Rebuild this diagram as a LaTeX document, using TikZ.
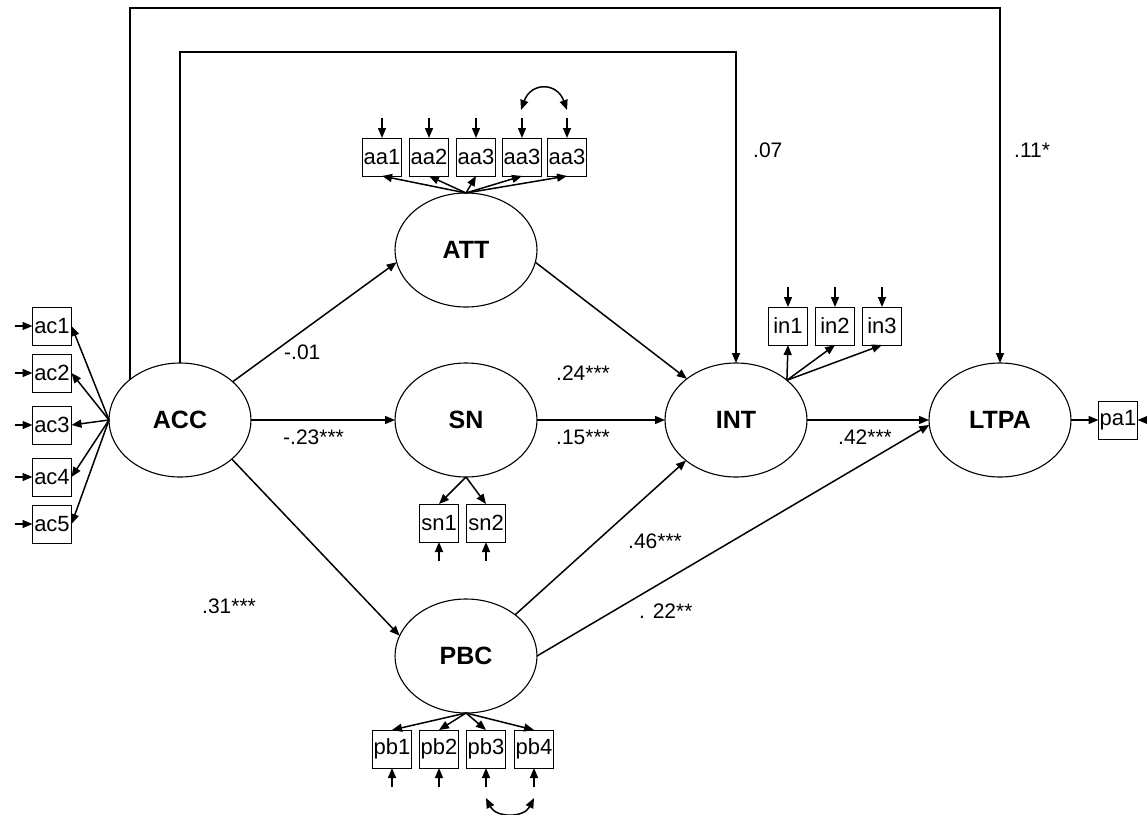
\documentclass[tikz,border=0pt]{standalone}
\usepackage{fontspec}
\setmainfont{Liberation Sans}
\usetikzlibrary{arrows.meta,shapes.geometric,calc}
\begin{document}
\begin{tikzpicture}[x=1pt,y=-1pt,
  latent/.style={ellipse,draw,line width=1.1pt,minimum width=142pt,minimum height=114pt,inner sep=0pt,outer sep=0pt,font=\fontsize{25}{29}\selectfont\bfseries},
  obs/.style={rectangle,draw,line width=1pt,minimum width=39pt,minimum height=38pt,inner sep=0pt,outer sep=0pt,font=\fontsize{22}{26}\selectfont},
  arr/.style={line width=1.5pt,-{Triangle[length=10pt,width=8pt]}},
  darr/.style={line width=1.5pt,{Triangle[length=10pt,width=8pt]}-{Triangle[length=10pt,width=8pt]}},
  lab/.style={anchor=west,inner sep=0pt,font=\fontsize{21}{25}\selectfont}]
\useasboundingbox (0,0) rectangle (1147,814);
% latent variables
\node[latent] (ACC) at (180,420) {ACC};
\node[latent] (ATT) at (466,250) {ATT};
\node[latent] (SN) at (466,420) {SN};
\node[latent] (PBC) at (466,656) {PBC};
\node[latent] (INT) at (736,420) {INT};
\node[latent] (LTPA) at (1000,420) {LTPA};
% indicators
\node[obs] (aa1) at (382,157) {aa1};
\node[obs] (aa2) at (429,157) {aa2};
\node[obs] (aa3) at (476,157) {aa3};
\node[obs] (aa4) at (522,157) {aa3};
\node[obs] (aa5) at (567,157) {aa3};
\node[obs] (ac1) at (52,326) {ac1};
\node[obs] (ac2) at (52,373) {ac2};
\node[obs] (ac3) at (52,425) {ac3};
\node[obs] (ac4) at (52,477) {ac4};
\node[obs] (ac5) at (52,524) {ac5};
\node[obs] (sn1) at (439,523) {sn1};
\node[obs] (sn2) at (486,523) {sn2};
\node[obs] (pb1) at (392,749) {pb1};
\node[obs] (pb2) at (439,749) {pb2};
\node[obs] (pb3) at (486,749) {pb3};
\node[obs] (pb4) at (534,749) {pb4};
\node[obs] (in1) at (788,326) {in1};
\node[obs] (in2) at (835,326) {in2};
\node[obs] (in3) at (882,326) {in3};
\node[obs] (pa1) at (1118,420) {pa1};
% structural paths
\draw[arr] (ACC.36) -- (ATT.190);
\draw[arr] (ACC.east) -- (SN.west);
\draw[arr] (ACC.-37) -- (PBC.163);
\draw[arr] (ATT.-10) -- (INT.140);
\draw[arr] (SN.east) -- (INT.west);
\draw[arr] (PBC.40) -- (INT.219);
\draw[arr] (INT.east) -- (LTPA.west);
\draw[arr] (PBC.east) -- (LTPA.184);
\coordinate (itop) at ($(INT.north)+(0,-311)$);
\coordinate (otop) at ($(LTPA.north)+(0,-355)$);
\draw[arr] (ACC.north) |- (itop) -- (INT.north);
\draw[arr] (ACC.141) |- (otop) -- (LTPA.north);
% measurement paths
\foreach \b in {aa1,aa2,aa3,aa4,aa5}{\draw[arr] (ATT.north) -- (\b.south);}
\foreach \b in {ac1,ac2,ac3,ac4,ac5}{\draw[arr] (ACC.west) -- (\b.east);}
\foreach \b in {sn1,sn2}{\draw[arr] (SN.south) -- (\b.north);}
\foreach \b in {pb1,pb2,pb3,pb4}{\draw[arr] (PBC.south) -- (\b.north);}
\foreach \b in {in1,in2,in3}{\draw[arr] (INT.38.7) -- (\b.south);}
\draw[arr] (LTPA.east) -- (pa1.west);
% error terms
\foreach \b in {aa1,aa2,aa3,aa4,aa5,in1,in2,in3}{
  \coordinate (e\b) at ($(\b.north)+(0,-20)$);
  \draw[arr] (e\b) -- (\b.north);}
\foreach \b in {sn1,sn2,pb1,pb2,pb3,pb4}{
  \coordinate (e\b) at ($(\b.south)+(0,19)$);
  \draw[arr] (e\b) -- (\b.south);}
\foreach \b in {ac1,ac2,ac3,ac4,ac5}{
  \coordinate (e\b) at ($(\b.west)+(-18,0)$);
  \draw[arr] (e\b) -- (\b.west);}
\coordinate (epa1) at (1147,420);
\draw[arr] (epa1) -- (pa1.east);
% covariances
\coordinate (caa4) at ($(aa4.north)+(-1,-28)$);
\coordinate (caa5) at ($(aa5.north)+(0,-28)$);
\draw[darr] (caa4) .. controls ($(caa4)+(10,-28)$) and ($(caa5)+(-10,-28)$) .. (caa5);
\coordinate (cpb3) at ($(pb3.south)+(0,30)$);
\coordinate (cpb4) at ($(pb4.south)+(0,30)$);
\draw[darr] (cpb3) .. controls ($(cpb3)+(10,20)$) and ($(cpb4)+(-10,20)$) .. (cpb4);
% labels
\node[lab] (l1) at (284,352) {-.01};
\node[lab] (l2) at (283,437) {-.23***};
\node[lab] (l3) at (202,606) {.31***};
\node[lab] (l4) at (556,373) {.24***};
\node[lab] (l5) at (556,437) {.15***};
\node[lab] (l6) at (628,541) {.46***};
\node[lab] (l7) at (838,437) {.42***};
\node[lab] (l8) at (639,611) {. 22**};
\node[lab] (l9) at (753,150) {.07};
\node[lab] (l10) at (1014,150) {.11*};
\end{tikzpicture}
\end{document}
